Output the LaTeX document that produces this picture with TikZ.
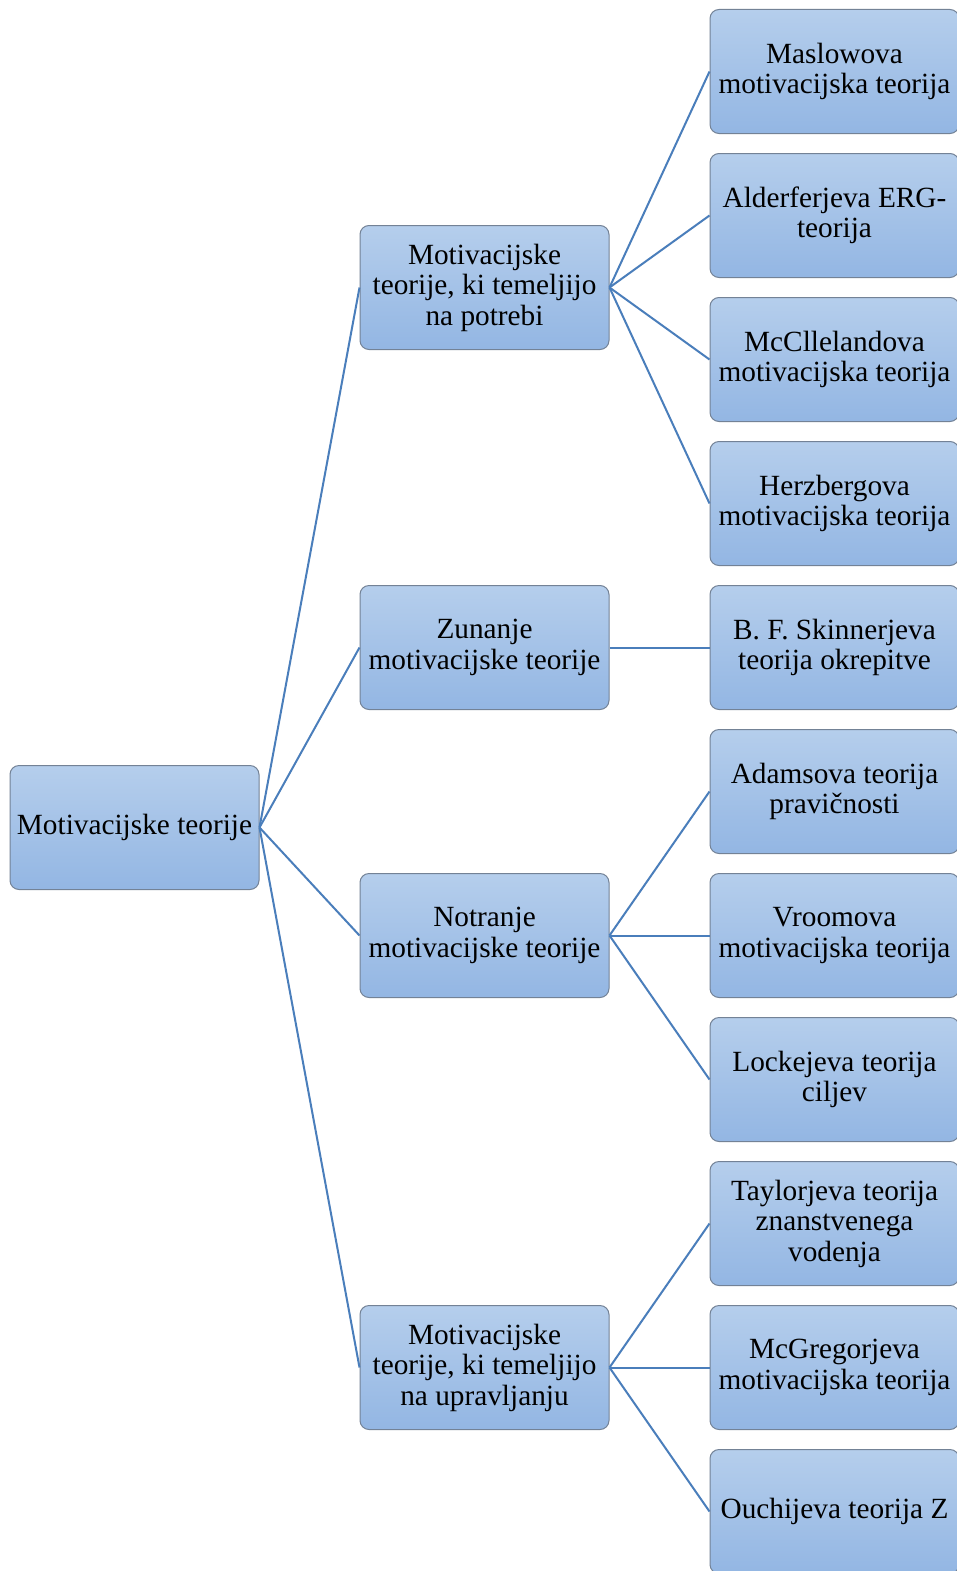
\documentclass[tikz,border=0pt]{standalone}
\usepackage{fontspec}
\setmainfont{Liberation Serif}
\definecolor{boxtop}{RGB}{181,206,236}
\definecolor{boxbot}{RGB}{147,182,227}
\definecolor{boxline}{RGB}{115,130,150}
\definecolor{linkc}{RGB}{74,126,187}
\tikzset{
  tbox/.style={draw=boxline, line width=1pt, rounded corners=9pt,
    top color=boxtop, bottom color=boxbot,
    minimum width=249pt, minimum height=124pt, inner sep=1pt,
    align=center, font=\fontsize{29.3}{30.5}\selectfont, anchor=center},
  link/.style={draw=linkc, line width=2pt}
}
\begin{document}
\begin{tikzpicture}[x=1pt,y=-1pt]
\useasboundingbox (0,0) rectangle (957,1571);
\clip (0,0) rectangle (957,1571);
\fill[white] (0,0) rectangle (957,1571);
% root
\node[tbox] (root) at (134.5,827.5) {Motivacijske teorije};
% middle
\node[tbox] (m1) at (484.5,287.5) {Motivacijske\\teorije, ki temeljijo\\na potrebi};
\node[tbox] (m2) at (484.5,647.5) {Zunanje\\motivacijske teorije};
\node[tbox] (m3) at (484.5,935.5) {Notranje\\motivacijske teorije};
\node[tbox] (m4) at (484.5,1367.5) {Motivacijske\\teorije, ki temeljijo\\na upravljanju};
% right
\node[tbox] (r1) at (834.5,71.5) {Maslowova\\motivacijska teorija};
\node[tbox] (r2) at (834.5,215.5) {Alderferjeva ERG-\\teorija};
\node[tbox] (r3) at (834.5,359.5) {McCllelandova\\motivacijska teorija};
\node[tbox] (r4) at (834.5,503.5) {Herzbergova\\motivacijska teorija};
\node[tbox] (r5) at (834.5,647.5) {B. F. Skinnerjeva\\teorija okrepitve};
\node[tbox] (r6) at (834.5,791.5) {Adamsova teorija\\pravičnosti};
\node[tbox] (r7) at (834.5,935.5) {Vroomova\\motivacijska teorija};
\node[tbox] (r8) at (834.5,1079.5) {Lockejeva teorija\\ciljev};
\node[tbox] (r9) at (834.5,1223.5) {Taylorjeva teorija\\znanstvenega\\vodenja};
\node[tbox] (r10) at (834.5,1367.5) {McGregorjeva\\motivacijska teorija};
\node[tbox] (r11) at (834.5,1511.5) {Ouchijeva teorija Z};
% links
\foreach \m in {m1,m2,m3,m4} \draw[link] (root.east) -- (\m.west);
\foreach \r in {r1,r2,r3,r4} \draw[link] (m1.east) -- (\r.west);
\draw[link] (m2.east) -- (r5.west);
\foreach \r in {r6,r7,r8} \draw[link] (m3.east) -- (\r.west);
\foreach \r in {r9,r10,r11} \draw[link] (m4.east) -- (\r.west);
\end{tikzpicture}
\end{document}
